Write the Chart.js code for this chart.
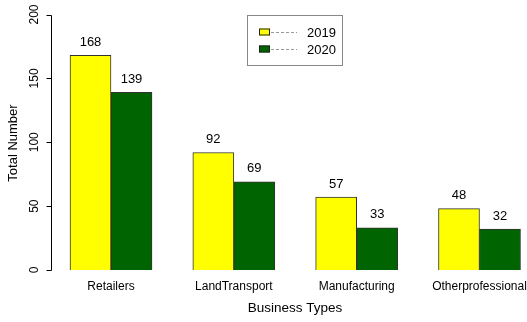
<!DOCTYPE html>
<html>
<head>
<meta charset="utf-8">
<script src="https://cdn.jsdelivr.net/npm/chart.js@4/dist/chart.umd.min.js"></script>
<style>
  html, body { margin: 0; padding: 0; background: #ffffff; }
  #wrap { width: 527px; height: 322px; position: relative; }
</style>
</head>
<body>
<div id="wrap"><canvas id="c" width="527" height="322"></canvas></div>
<script>
const categories = ["Retailers", "LandTransport", "Manufacturing", "Otherprofessional"];
const values2019 = [168, 92, 57, 48];
const values2020 = [139, 69, 33, 32];
const seriesNames = ["2019", "2020"];
const yTicks = [0, 50, 100, 150, 200];
const colors = ["#FFFF00", "#006400"];

const FONT = "'Liberation Sans', Arial, Helvetica, sans-serif";

const rPlot = {
  id: "rPlot",
  afterDatasetsDraw(chart) {
    const ctx = chart.ctx;
    const xs = chart.scales.x, ys = chart.scales.y;
    ctx.save();
    ctx.fillStyle = "#000";
    ctx.strokeStyle = "#000";
    ctx.lineWidth = 1;

    // y axis line and ticks
    const axX = 51.5;
    const y0 = Math.round(ys.getPixelForValue(yTicks[0])) + 0.5;
    const y1 = Math.round(ys.getPixelForValue(yTicks[yTicks.length - 1])) + 0.5;
    ctx.beginPath();
    ctx.moveTo(axX, y0); ctx.lineTo(axX, y1);
    yTicks.forEach(v => {
      const py = Math.round(ys.getPixelForValue(v)) + 0.5;
      ctx.moveTo(axX, py); ctx.lineTo(axX - 5, py);
    });
    ctx.stroke();

    // y tick labels, rotated
    ctx.font = "12px " + FONT;
    ctx.textAlign = "center";
    ctx.textBaseline = "middle";
    yTicks.forEach(v => {
      const py = ys.getPixelForValue(v);
      ctx.save();
      ctx.translate(34.5, py);
      ctx.rotate(-Math.PI / 2);
      ctx.fillText(String(v), 0, 0);
      ctx.restore();
    });

    // y title
    ctx.font = "13px " + FONT;
    ctx.save();
    ctx.translate(13, (y0 + y1) / 2);
    ctx.rotate(-Math.PI / 2);
    ctx.fillText("Total Number", 0, 0);
    ctx.restore();

    // x category labels
    ctx.font = "12px " + FONT;
    categories.forEach((c, i) => {
      ctx.fillText(c, xs.getPixelForTick(i), 287);
    });

    // x title
    ctx.font = "13.5px " + FONT;
    ctx.fillText("Business Types", 295, 308);

    // value labels
    ctx.font = "13px " + FONT;
    chart.data.datasets.forEach((ds, di) => {
      const meta = chart.getDatasetMeta(di);
      meta.data.forEach((bar, i) => {
        ctx.fillText(String(ds.data[i]), bar.x, bar.y - 13);
      });
    });

    // legend
    ctx.strokeStyle = "#888";
    ctx.strokeRect(247.5, 15.5, 95, 50);
    const ly = [32, 49];
    seriesNames.forEach((n, i) => {
      ctx.fillStyle = colors[i];
      ctx.fillRect(259, ly[i] - 3.5, 11, 7);
      ctx.strokeStyle = "#222";
      ctx.strokeRect(259.5, ly[i] - 3.5 + 0.5, 10, 6);
      ctx.strokeStyle = "#999";
      ctx.setLineDash([3, 2]);
      ctx.beginPath();
      ctx.moveTo(271, ly[i] + 0.5); ctx.lineTo(297, ly[i] + 0.5);
      ctx.stroke();
      ctx.setLineDash([]);
      ctx.fillStyle = "#000";
      ctx.font = "13px " + FONT;
      ctx.textAlign = "left";
      ctx.fillText(n, 307, ly[i] + 1);
    });
    ctx.restore();
  }
};

new Chart(document.getElementById("c"), {
  type: "bar",
  data: {
    labels: categories,
    datasets: [
      { label: seriesNames[0], data: values2019, backgroundColor: colors[0], borderColor: "#333", borderWidth: 1, clip: false, barThickness: 41 },
      { label: seriesNames[1], data: values2020, backgroundColor: colors[1], borderColor: "#333", borderWidth: 1, clip: false, barThickness: 41 }
    ]
  },
  options: {
    responsive: false,
    animation: false,
    devicePixelRatio: 1,
    layout: { padding: { left: 111, right: 47.5, top: 14.5, bottom: 52 } },
    plugins: { legend: { display: false }, tooltip: { enabled: false } },
    scales: {
      x: { type: "category", offset: false, display: false },
      y: { type: "linear", min: 0, max: 200, display: false }
    }
  },
  plugins: [rPlot]
});
</script>
</body>
</html>
